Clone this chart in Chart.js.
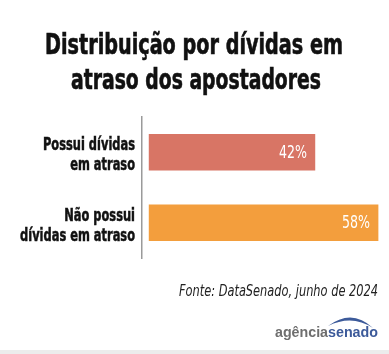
<!DOCTYPE html>
<html lang="pt-BR">
<head>
<meta charset="utf-8">
<title>Distribuição por dívidas em atraso dos apostadores</title>
<script src="https://cdn.jsdelivr.net/npm/chart.js@4.4.1/dist/chart.umd.min.js"></script>
<style>
	html, body { margin: 0; padding: 0; background: #ffffff; }
	#myChart { display: block; }
</style>
</head>
<body>
<canvas id="myChart" width="389" height="354"></canvas>
<script>
var _titleLines = ["Distribuição por dívidas em", "atraso dos apostadores"];
var _categories = [["Possui dívidas", "em atraso"], ["Não possui", "dívidas em atraso"]];
var _values = [42, 58];
var _source = "Fonte: DataSenado, junho de 2024";
var _logoText = ["agência", "senado"];

var _barColors = ["#d87565", "#f39e3d"];
var _narrow = "'Liberation Sans Narrow', 'DejaVu Sans Condensed', sans-serif";
var myChart;

// texto comprimido na horizontal para imitar a fonte condensada do original
function drawScaled(ctx, text, x, y, sx, align, stroke) {
	ctx.save();
	ctx.translate(x, y);
	ctx.scale(sx, 1);
	ctx.textAlign = align;
	ctx.fillText(text, 0, 0);
	if (stroke) {
		ctx.strokeStyle = ctx.fillStyle;
		ctx.lineWidth = stroke;
		ctx.strokeText(text, 0, 0);
	}
	ctx.restore();
}

function fitText(ctx, text, x, y, width, align, stroke) {
	var w = ctx.measureText(text).width;
	drawScaled(ctx, text, x, y, Math.min(1.2, width / w), align, stroke);
}

var decorPlugin = {
	id: 'decor',
	beforeDraw: function(chart) {
		var ctx = chart.ctx;
		ctx.save();
		ctx.fillStyle = "#ffffff";
		ctx.fillRect(0, 0, chart.width, chart.height);
		ctx.fillStyle = "#ececec";
		ctx.fillRect(0, 350, chart.width, 4);
		ctx.restore();
	},
	afterDraw: function(chart) {
		var ctx = chart.ctx;
		ctx.save();
		ctx.textBaseline = "alphabetic";

		// titulo
		ctx.fillStyle = "#111111";
		ctx.font = "bold 28px " + _narrow;
		fitText(ctx, _titleLines[0], 194, 54, 298, "center", 0.6);
		fitText(ctx, _titleLines[1], 196, 89, 250, "center", 0.6);

		// fonte
		ctx.fillStyle = "#222222";
		ctx.font = "italic 16px " + _narrow;
		fitText(ctx, _source, 378, 296, 199, "right");

		// logo
		ctx.font = "bold 14px 'Liberation Sans', Arial, sans-serif";
		ctx.fillStyle = "#6e6e6e";
		fitText(ctx, _logoText[0], 275, 337, 53, "left");
		ctx.fillStyle = "#3c5a9a";
		fitText(ctx, _logoText[1], 328, 337, 50, "left");
		ctx.beginPath();
		ctx.moveTo(328, 326);
		ctx.quadraticCurveTo(352, 308, 373, 328);
		ctx.quadraticCurveTo(352, 314, 328, 326);
		ctx.closePath();
		ctx.fill();
		ctx.restore();
	}
};

// rotulos das categorias, posicionados pela escala y
var categoryLabelPlugin = {
	id: 'categoryLabels',
	afterDraw: function(chart) {
		var ctx = chart.ctx;
		var yScale = chart.scales.y;
		var right = yScale.right - 7;
		ctx.save();
		ctx.fillStyle = "#111111";
		ctx.font = "bold 17px " + _narrow;
		ctx.textBaseline = "alphabetic";
		var sx = 92 / ctx.measureText(_categories[0][0]).width;
		_categories.forEach(function(lines, i) {
			var y = yScale.getPixelForValue(i);
			drawScaled(ctx, lines[0], right, y - 2, sx, "right", 0.5);
			drawScaled(ctx, lines[1], right, y + 18, sx, "right", 0.5);
		});
		ctx.restore();
	}
};

var valueLabelPlugin = {
	id: 'valueLabels',
	afterDatasetsDraw: function(chart) {
		var ctx = chart.ctx;
		var meta = chart.getDatasetMeta(0);
		ctx.save();
		ctx.fillStyle = "#ffffff";
		ctx.font = "18px " + _narrow;
		ctx.textBaseline = "middle";
		var sx = 28 / ctx.measureText("42%").width;
		meta.data.forEach(function(bar, i) {
			drawScaled(ctx, _values[i] + "%", bar.x - 8, bar.y + 1, sx, "right");
		});
		ctx.restore();
	}
};

var _config = {
	type: 'bar',
	data: {
		labels: _categories,
		datasets: [{
			data: _values,
			backgroundColor: _barColors,
			borderWidth: 0,
			barThickness: 36
		}]
	},
	options: {
		indexAxis: 'y',
		responsive: false,
		animation: false,
		layout: {
			padding: { top: 117, bottom: 96, left: 0, right: 7 }
		},
		plugins: {
			legend: { display: false },
			tooltip: { enabled: false }
		},
		scales: {
			x: {
				display: false,
				min: -1.8,
				max: 59
			},
			y: {
				grid: { display: false, drawTicks: false },
				border: { display: true, color: "#9a9a9a", width: 1.5 },
				afterFit: function(scale) {
					scale.width = 142;
				},
				ticks: { display: false }
			}
		}
	},
	plugins: [decorPlugin, categoryLabelPlugin, valueLabelPlugin]
};

function createChart(id) {
	var ctx = document.getElementById(id);
	myChart = new Chart(ctx, _config);
}

createChart("myChart");
</script>
</body>
</html>
